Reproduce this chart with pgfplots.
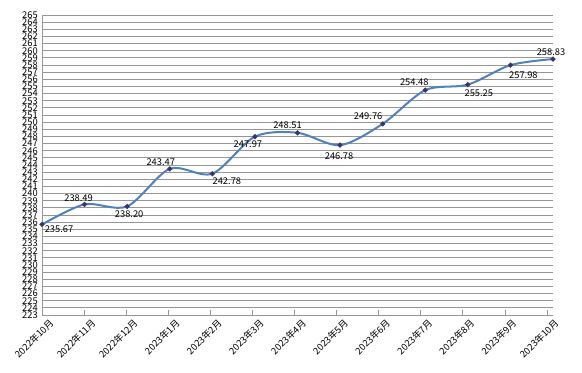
\documentclass[border=0pt]{standalone}
\usepackage{pgfplots}
\usepackage{pgfplotstable}
\pgfplotsset{compat=1.18}
\usepackage{fontspec}
\setmainfont{Noto Sans CJK SC}
\definecolor{lineblue}{RGB}{79,129,189}
\definecolor{markc}{RGB}{60,50,110}
\definecolor{gridc}{RGB}{150,150,150}
\pgfplotstableread{
x y lab dx dy
0 235.67 235.67 12.75 -3.75
1 238.49 238.49 -4.5 4.5
2 238.20 238.20 1.5 -6
3 243.47 243.47 -6.75 5.25
4 242.78 242.78 10.9 -5.25
5 247.97 247.97 -5.25 -5.6
6 248.51 248.51 -7.5 6
7 246.78 246.78 -0.75 -8.25
8 249.76 249.76 -10.9 6
9 254.48 254.48 -8.25 6
10 255.25 255.25 8.25 -6.4
11 257.98 257.98 9.75 -7.5
12 258.83 258.83 -1.5 5.25
}\datatab
\begin{document}
\begin{tikzpicture}
\path[use as bounding box] (-31.5pt,-43.5pt) rectangle (405pt,236.25pt);
\begin{axis}[
  at={(0,0)}, anchor=south west,
  scale only axis,
  width=383.25pt, height=225pt,
  xmin=0, xmax=12,
  ymin=223, ymax=265,
  ytick distance=1,
  ymajorgrids,
  grid style={gridc, line width=0.6pt},
  axis x line*=bottom,
  axis y line*=left,
  axis line style={gridc, line width=0.6pt},
  xtick={0,0.98826,1.97652,2.96478,3.95304,4.9413,5.92956,6.91782,7.90608,8.89434,9.8826,10.87086,11.85912},
  xticklabels={2022年10月,2022年11月,2022年12月,2023年1月,2023年2月,2023年3月,2023年4月,2023年5月,2023年6月,2023年7月,2023年8月,2023年9月,2023年10月},
  xticklabel style={rotate=45, anchor=north east, font=\fontsize{7}{7}\selectfont, inner sep=1pt, xshift=3pt, yshift=-4pt},
  yticklabel style={font=\fontsize{7}{7}\selectfont, inner sep=1pt, xshift=-2pt},
  /pgf/number format/assume math mode=true,
  major tick length=4pt,
  tick style={gridc, line width=0.6pt},
  xtick pos=bottom, ytick pos=left,
  ytick style={draw=none},
  clip=false,
]
\addplot[lineblue, line width=1.5pt, smooth, tension=0.5,
  mark=*, mark size=1pt, mark options={markc, fill=markc},
  nodes near coords, point meta=explicit symbolic,
  visualization depends on={\thisrow{dx} \as \dx},
  visualization depends on={\thisrow{dy} \as \dy},
  every node near coord/.style={anchor=center, inner sep=0pt, black, font=\fontsize{7}{7}\selectfont, xshift=\dx pt, yshift=\dy pt},
] table[x=x, y=y, meta=lab] {\datatab};
\end{axis}
\end{tikzpicture}
\end{document}
